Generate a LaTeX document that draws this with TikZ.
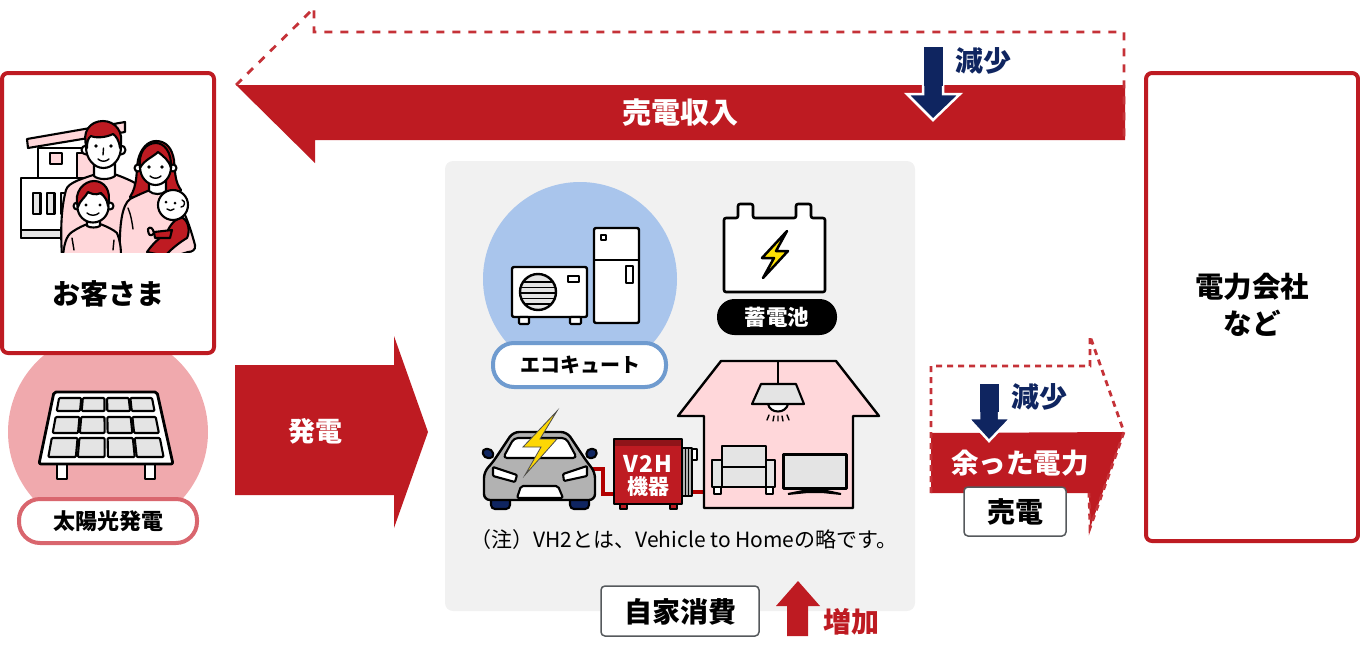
\documentclass[tikz,border=0pt]{standalone}
\usepackage{fontspec}
\setmainfont{Noto Sans CJK JP}
\definecolor{brand}{HTML}{BE1B22}
\definecolor{pinkf}{HTML}{FFD7DA}
\definecolor{navy}{HTML}{0F2560}
\definecolor{panel}{HTML}{F1F1F1}
\definecolor{solarc}{HTML}{F0A9AD}
\definecolor{ecoc}{HTML}{A9C5EC}
\definecolor{ecob}{HTML}{6F9BCF}
\definecolor{solarb}{HTML}{D9666E}
\definecolor{cellg}{HTML}{E4E4E4}
\definecolor{boxg}{HTML}{55595C}
\newcommand{\fsz}[1]{\fontsize{#1}{#1}\selectfont}
\tikzset{
  ln/.style={draw=black,line width=2.1pt,line join=round},
  thin ln/.style={draw=black,line width=1.4pt,line join=round,line cap=round},
  lab/.style={inner sep=0pt,font=\bfseries\fsz{#1}},
  lab/.default=28,
  dashr/.style={draw=brand!90!white,line width=2.8pt,dash pattern=on 8pt off 8pt},
  tagbox/.style={draw=boxg,line width=1.5pt,fill=white,rounded corners=4pt},
  wht/.style={draw=white,line width=2.5pt,line join=miter,fill=navy},
}
\begin{document}
\begin{tikzpicture}[x=1pt,y=-1pt]
\useasboundingbox (0,0) rectangle (1360,646);
% panel
\fill[panel,rounded corners=8pt] (445,161) rectangle (915,611);
% solar circle and customer box
\fill[solarc] (108,432) circle[radius=100];
\draw[brand,line width=4pt,fill=white,rounded corners=6pt] (2,73) rectangle (214,353);
\draw[brand,line width=4pt,fill=white,rounded corners=6pt] (1146,73) rectangle (1358,541);
% family
\begin{scope}
\clip (0,100) rectangle (215,252.7);
\draw[ln,fill=pinkf] (27,139) -- (125,122) -- (125,132) -- (28,148) -- cycle;
\draw[ln,fill=white] (38,148) rectangle (95,180);
\draw[ln,fill=pinkf] (50,153) rectangle (62,164);
\draw[ln,fill=pinkf] (77,153) rectangle (95,180);
\draw[ln,fill=white] (21,178) rectangle (90,238);
\draw[ln,fill=cellg] (21,230) rectangle (90,238);
\foreach \xa in {33,47,61}{\draw[ln,fill=cellg] (\xa,193) rectangle (\xa+7.5,214);}
% man
\draw[ln,fill=pinkf] (62,256) .. controls (60,225) and (62,205) .. (66,190) .. controls (68,182) and (85,178) .. (96,174) -- (114,174) .. controls (120,176) and (130,180) .. (135,183) -- (135,256) -- cycle;
\draw[ln,fill=white] (94,160) -- (94,176) .. controls (98,180) and (110,180) .. (115,176) -- (115,160) -- cycle;
\draw[ln,fill=white] (86,150) circle[radius=4.5] (121,150) circle[radius=4.5];
\draw[ln,fill=white] (103.5,147) ellipse[x radius=17.5,y radius=21];
\draw[ln,fill=brand] (87,148) .. controls (81,132) and (90,121) .. (103,121) .. controls (115,121) and (125,132) .. (120,148) .. controls (119,140) and (116,136) .. (113,134) .. controls (105,138) and (95,138) .. (91,136) .. controls (88,138) and (87,142) .. (87,148) -- cycle;
\fill (96,146) circle[radius=1.8] (111,146) circle[radius=1.8];
\draw[thin ln] (103.5,148) -- (103,155) (98,159) .. controls (101,162) and (106,162) .. (109,159);
% woman
\draw[ln,fill=brand] (130,197) .. controls (138,185) and (136,170) .. (138,160) .. controls (141,148) and (148,141) .. (156,141) .. controls (166,141) and (172,148) .. (174,160) .. controls (175,172) and (175,182) .. (181,190) -- (170,205) -- (130,197) -- cycle;
\draw[ln,fill=pinkf] (120,256) .. controls (119,225) and (122,205) .. (130,199) .. controls (138,195) and (145,192) .. (150,190) -- (165,190) .. controls (178,196) and (187,215) .. (195,245) .. controls (196,250) and (192,252) .. (188,252) -- (175,256) -- cycle;
\draw[ln,fill=white] (149,178) -- (149,191) .. controls (153,195) and (162,195) .. (166,191) -- (166,178) -- cycle;
\draw[ln,fill=white] (138,168) circle[radius=3.5] (173,168) circle[radius=3.5];
\draw[ln,fill=white] (155.5,167) ellipse[x radius=15.5,y radius=18];
\draw[ln,fill=brand] (140,168) .. controls (138,152) and (146,143) .. (156,143) .. controls (164,143) and (172,152) .. (171,168) .. controls (169,160) and (163,156) .. (158,152) .. controls (153,157) and (144,160) .. (140,168) -- cycle;
\fill (149,167) circle[radius=1.8] (162,167) circle[radius=1.8];
\draw[thin ln] (150,176) .. controls (153,179) and (158,179) .. (161,176);
\draw[thin ln] (128,208) .. controls (131,215) and (132,222) .. (133,229);
% baby
\draw[ln,fill=brand] (147,252) .. controls (155,240) and (165,235) .. (168,230) .. controls (172,222) and (178,217) .. (183,218) .. controls (189,222) and (190,232) .. (187,238) .. controls (180,242) and (170,250) .. (165,256) -- cycle;
\draw[ln,fill=pinkf] (148,229) .. controls (150,226) and (153,228) .. (154,233) .. controls (150,238) and (148,234) .. (148,229) -- cycle;
\draw[ln,fill=brand] (154,232) -- (172,230) -- (170,238) -- (155,238) -- cycle;
\draw[ln,fill=white] (173,205) circle[radius=15];
\fill (166,202) circle[radius=1.5] (175,203) circle[radius=1.5];
\draw[thin ln] (167,209) .. controls (169,211) and (172,211) .. (174,209);
\draw[thin ln] (182,200) .. controls (186,201) and (185,207) .. (181,207);
% boy
\draw[ln,fill=pinkf] (63,256) .. controls (64,245) and (66,236) .. (72,232) .. controls (78,228) and (84,225) .. (88,224) -- (100,224) .. controls (106,226) and (114,230) .. (117,233) .. controls (120,240) and (121,248) .. (121,256) -- cycle;
\draw[ln,fill=white] (87,218) -- (87,226) .. controls (90,228) and (97,228) .. (100,226) -- (100,218) -- cycle;
\draw[ln,fill=white] (77,206) circle[radius=3.5] (110,206) circle[radius=3.5];
\draw[ln,fill=white] (93,207) ellipse[x radius=15.5,y radius=15.5];
\draw[ln,fill=brand] (78,207) .. controls (73,192) and (84,181) .. (94,181) .. controls (104,181) and (112,190) .. (108,206) .. controls (107,199) and (104,196) .. (101,193) .. controls (95,196) and (90,193) .. (88,192) .. controls (85,198) and (80,200) .. (78,207) -- cycle;
\fill (86,205) circle[radius=1.7] (100,205) circle[radius=1.7];
\draw[thin ln] (87,213) .. controls (90,216) and (96,216) .. (99,213);
\draw[thin ln] (72,238) -- (74,250) (114,240) -- (113,250);
\end{scope}
\node[lab] (customer) at (108,294) {お客さま};
\node[lab=28.5] (utility) at (1252,308) {\begin{tabular}{@{}c@{}}電力会社\\[4pt]など\end{tabular}};
% solar panel
\draw[ln,fill=white] (57,464) rectangle (67,479);
\draw[ln,fill=white] (145,464) rectangle (155,479);
\draw[ln,line width=2.8pt,fill=white,rounded corners=2pt] (54,392) -- (157,392) -- (173,464) -- (39,464) -- cycle;
\foreach \ya/\yb in {398/411,417/433,438/457}{
 \foreach \ua/\ub in {.06/.27,.285/.49,.515/.72,.735/.94}{
  \pgfmathsetmacro{\la}{54-(\ya-392)*15/72}
  \pgfmathsetmacro{\ra}{157+(\ya-392)*16/72}
  \pgfmathsetmacro{\lb}{54-(\yb-392)*15/72}
  \pgfmathsetmacro{\rb}{157+(\yb-392)*16/72}
  \draw[ln,fill=cellg,rounded corners=1pt] ({\la+\ua*(\ra-\la)},\ya) -- ({\la+\ub*(\ra-\la)},\ya) -- ({\lb+\ub*(\rb-\lb)},\yb) -- ({\lb+\ua*(\rb-\lb)},\yb) -- cycle;
 }}
\draw[solarb,line width=4pt,fill=white,rounded corners=21pt] (19,499) rectangle (197,543);
\node[lab=22] (solar) at (108,521) {太陽光発電};
% generation arrow
\fill[brand] (235,365) -- (394,365) -- (394,336) -- (428,432) -- (394,528) -- (394,495) -- (235,495) -- cycle;
\node[lab=27,text=white] (gen) at (315,431) {発電};
% sales income arrow
\fill[brand] (236,85) -- (1125,85) -- (1125,140) -- (315,140) -- (315,163) -- cycle;
\draw[dashr] (236,85) -- (314,8) -- (314,32) -- (1124,32) -- (1124,140);
\draw[wht] (923,48) -- (943,48) -- (943,94) -- (960,94) -- (933,120) -- (907,94) -- (923,94) -- cycle;
\fill[navy] (923.5,47) rectangle (942.5,86);
\node[lab,text=navy] (dec1) at (983,61) {減少};
\node[lab=29,text=white] (income) at (680,113) {売電収入};
% eco cute
\fill[ecoc] (580,279) circle[radius=97];
\draw[ln,line width=2.4pt,fill=white,rounded corners=2pt] (512,267) rectangle (587,317);
\draw[ln,fill=white,rounded corners=1pt] (519,317) rectangle (529,324);
\draw[ln,fill=white,rounded corners=1pt] (570,317) rectangle (581,324);
\draw[ln,fill=white] (568,276) rectangle (579,282);
\begin{scope}
\clip (538,292) circle[radius=18];
\fill[cellg] (538,292) circle[radius=18];
\foreach \yy in {282,287.5,293,298.5,304}{\draw[black,line width=1.8pt] (515,\yy) -- (560,\yy);}
\end{scope}
\draw[black,line width=2.4pt] (538,292) circle[radius=18];
\draw[ln,line width=2.4pt,fill=white,rounded corners=2pt] (594,228) rectangle (639,323);
\draw[black,line width=2.2pt] (594,260) -- (639,260);
\draw[ln,fill=white] (601,235) rectangle (606,240);
\draw[ln,fill=white] (626,266) rectangle (633,283);
\draw[ecob,line width=4pt,fill=white,rounded corners=21pt] (493,343) rectangle (666,387);
\node[lab=20] (eco) at (580,365) {エコキュート};
% battery
\draw[ln,line width=2.6pt,fill=white,rounded corners=2pt] (724,218) -- (738,218) -- (738,204) -- (753,204) -- (753,218) -- (796,218) -- (796,204) -- (811,204) -- (811,218) -- (825,218) -- (825,292) -- (724,292) -- cycle;
\draw[ln,line width=2.5pt,fill=yellow!85!orange] (787,231) -- (762,258) -- (774,258) -- (763,278) -- (788,251) -- (776,251) -- cycle;
\fill[black,rounded corners=17.5pt] (717,299) rectangle (837,335);
\node[lab=21.5,text=white] (batt) at (777,317) {蓄電池};
% cables
\draw[red!70!black,line width=4.5pt] (590,469) -- (603,469) -- (603,494) -- (616,494);
\draw[red!70!black,line width=4.5pt] (690,492) -- (706,492);
% car
\draw[ln,fill=navy,rounded corners=4pt] (491,497) rectangle (510,509);
\draw[ln,fill=navy,rounded corners=4pt] (570,497) rectangle (589,509);
\draw[ln,fill=navy,rounded corners=4pt] (482,449) -- (492,449) -- (494,458) -- (484,458) -- cycle;
\draw[ln,fill=navy,rounded corners=4pt] (587,449) -- (597,449) -- (596,458) -- (586,458) -- cycle;
\draw[ln,line width=2.4pt,fill=gray!60,rounded corners=6pt] (484,500) -- (484,472) -- (493,462) -- (513,432) -- (567,432) -- (587,462) -- (595,472) -- (595,500) -- cycle;
\draw[ln,fill=white,rounded corners=4pt] (503,458) -- (514,438) -- (566,438) -- (577,458) -- cycle;
\draw[ln,fill=white,rounded corners=1pt] (493,467) -- (517,475) -- (515,482) -- (493,476) -- cycle;
\draw[ln,fill=white,rounded corners=1pt] (587,466) -- (563,474) -- (564,481) -- (587,476) -- cycle;
\draw[ln,fill=white,rounded corners=2pt] (521,486) -- (558,486) -- (563,498) -- (517,498) -- cycle;
\draw[draw=black!70,line width=.8pt,fill=yellow!75!orange] (557,411) -- (523,447) -- (541,447) -- (525,475) -- (557,439) -- (540,439) -- cycle;
% V2H
\draw[ln,fill=gray!60] (682,448) rectangle (692,496);
\foreach \xx in {685,688.5}{\draw[black,line width=.8pt] (\xx,448) -- (\xx,496);}
\draw[ln,fill=white] (692,449) rectangle (697,460);
\draw[ln,fill=brand] (620,504) rectangle (627,509);
\draw[ln,fill=brand] (670,504) rectangle (677,509);
\draw[ln,fill=brand] (614,439) rectangle (682,504);
\fill[brand!75!black] (615,440) rectangle (681,446);
\node[lab=23,text=white] (v2h) at (648,464) {V\kern1pt2\kern1ptH};
\node[lab=21,text=white] (kiki) at (648,487) {機器};
% house
\draw[ln,line width=2.4pt,fill=pinkf] (721,361) -- (836,361) -- (879,416) -- (853,416) -- (853,508) -- (704,508) -- (704,416) -- (678,416) -- cycle;
\draw[ln] (778,361) -- (778,384);
\draw[ln,fill=white] (768,404) .. controls (770,414) and (786,414) .. (788,404);
\draw[ln,fill=cellg] (761,384) -- (796,384) -- (804,404) -- (752,404) -- cycle;
\draw[thin ln] (769,415) -- (767,420) (774,416) -- (773,421) (778,416) -- (778,421) (782,416) -- (783,421) (787,415) -- (789,420);
% sofa
\draw[ln,fill=white] (714,487) rectangle (721,494);
\draw[ln,fill=white] (766,487) rectangle (773,494);
\draw[ln,fill=cellg] (722,446) rectangle (766,468);
\draw[ln,fill=cellg] (722,467) rectangle (766,487);
\draw[ln,fill=cellg] (712,460) rectangle (722,487);
\draw[ln,fill=cellg] (766,460) rectangle (775,487);
% tv
\draw[ln,line width=3pt,fill=cellg] (783,454) rectangle (846,488);
\draw[black,line width=2pt,fill=black] (788,494) -- (808,490) -- (822,490) -- (841,494) -- (822,492) -- (808,492) -- cycle;
% note
\node[inner sep=0pt,font=\fsz{21}] (note) at (684,540) {（注）VH2とは、Vehicle to Homeの略です。};
% self consumption
\draw[tagbox] (601,586) rectangle (759,636);
\node[lab] (self) at (680,612) {自家消費};
\fill[brand] (798,581) -- (820,606) -- (808,606) -- (808,636) -- (787,636) -- (787,606) -- (776,606) -- cycle;
\node[lab,text=brand] (inc) at (851,622) {増加};
% surplus
\fill[brand] (931,433) -- (1124,432) -- (1090,528) -- (1089,493) -- (931,493) -- cycle;
\draw[dashr,dash pattern=on 6pt off 5pt] (931,493) -- (931,366) -- (1090,366) -- (1090,336) -- (1124,432) -- (1090,528) -- (1089,493);
\draw[wht] (979,384) -- (999,384) -- (999,418) -- (1011,418) -- (989,441) -- (968,418) -- (979,418) -- cycle;
\fill[navy] (979.5,384) rectangle (998.5,412);
\node[lab,text=navy] (dec2) at (1039,397) {減少};
\node[lab=27.5,text=white] (surplus) at (1020,463) {余った電力};
\draw[tagbox] (964,487) rectangle (1066,536);
\node[lab] (sell) at (1015,512) {売電};
\end{tikzpicture}
\end{document}
